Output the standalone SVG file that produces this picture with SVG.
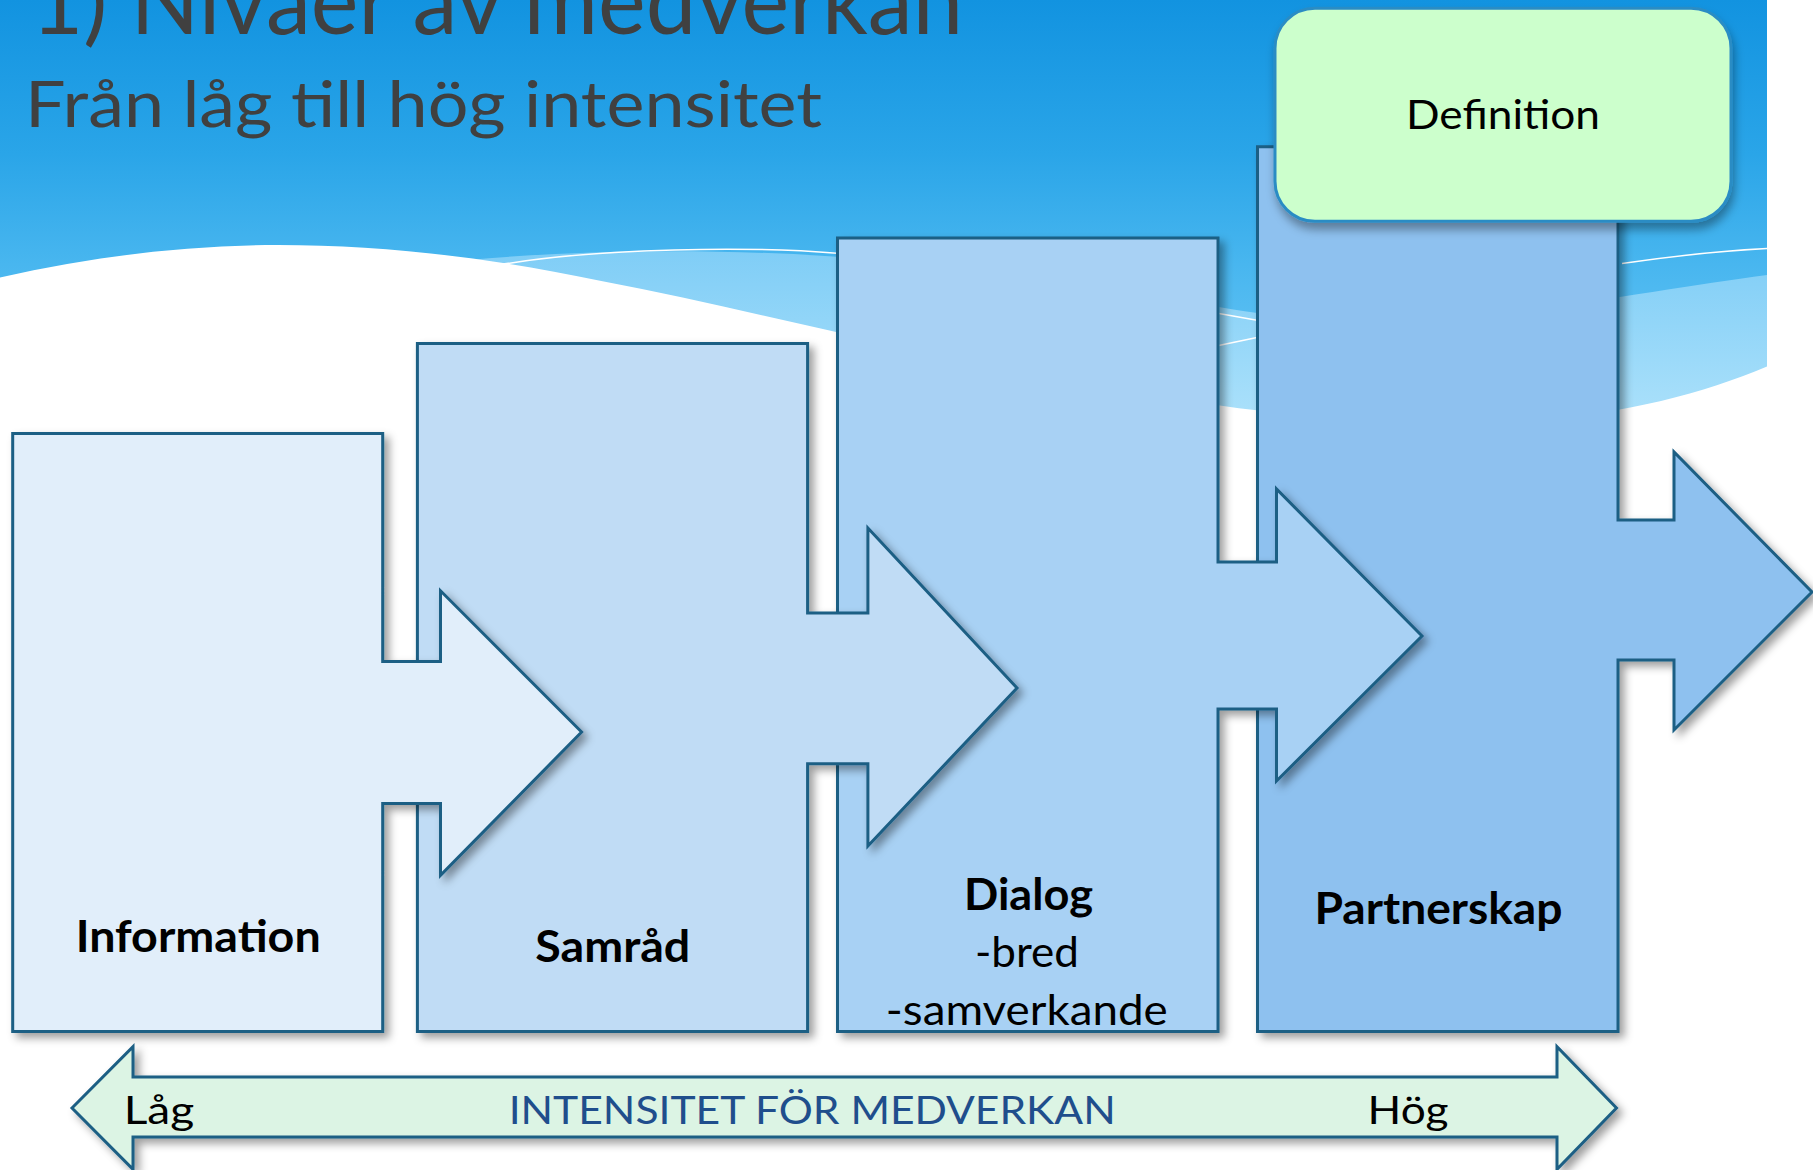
<svg xmlns="http://www.w3.org/2000/svg" width="1813" height="1170" viewBox="0 0 1813 1170">
  <defs>
    <linearGradient id="sky" x1="0" y1="0" x2="0" y2="440" gradientUnits="userSpaceOnUse">
      <stop offset="0" stop-color="#1293e0"/>
      <stop offset="0.35" stop-color="#2aa5e8"/>
      <stop offset="0.6" stop-color="#48b6ef"/>
      <stop offset="0.8" stop-color="#5ec1f3"/>
      <stop offset="1" stop-color="#7dcef7"/>
    </linearGradient>
    <linearGradient id="band" x1="0" y1="250" x2="0" y2="430" gradientUnits="userSpaceOnUse">
      <stop offset="0" stop-color="#7fcdf6"/>
      <stop offset="1" stop-color="#aee2fb"/>
    </linearGradient>
    <filter id="sh" x="-10%" y="-10%" width="130%" height="130%">
      <feDropShadow dx="5" dy="5" stdDeviation="4" flood-color="#000" flood-opacity="0.38"/>
    </filter>
    <filter id="shd" x="-10%" y="-10%" width="130%" height="140%">
      <feDropShadow dx="2" dy="7" stdDeviation="5" flood-color="#000" flood-opacity="0.35"/>
    </filter>
  </defs>
  <style>
    .box { stroke: #1d5e84; stroke-width: 3; stroke-linejoin: miter; filter: url(#sh); }
    .lbl { font-family: Lato, "Liberation Sans", sans-serif; fill: #000; text-anchor: middle; }
    .b { font-weight: 700; }
    .ttl { font-family: Lato, "Liberation Sans", sans-serif; fill: #404040; }
    .scale { font-family: Lato, "Liberation Sans", sans-serif; font-size: 38px; }
    .wl { fill: none; stroke: #ffffff; stroke-width: 1.5; }
  </style>

  <rect width="1813" height="1170" fill="#ffffff"/>

  <g id="background">
    <rect x="0" y="0" width="1767" height="440" fill="url(#sky)"/>
    <path d="M428,264 C600,245 810,245 1040,278 C1214,303 1330,335 1445,321 C1561,308 1677,287 1767,275 L1767,440 L428,440 Z" fill="url(#band)"/>
    <path d="M0,277.5 C92.5,256.7 185,245 277.5,245 C381.6,245 485.6,256.7 601.3,281 C716.9,303 832.5,333 948.1,356 C1098.4,387.3 1271.9,422 1445.3,423.2 C1595.6,423.2 1688.1,399 1767,366.5 L1767,1170 L0,1170 Z" fill="#ffffff"/>
    <path class="wl" d="M499.5,264.8 C601.3,247.4 751.6,246.3 837,253.2"/>
    <path class="wl" d="M1217.5,313.3 L1256.9,320.3"/>
    <path class="wl" d="M1217.5,345.7 L1256.9,337.6"/>
    <path class="wl" d="M1622,263.6 C1680,255 1720,251 1767,248.6"/>
  </g>

  <g id="title">
    <text class="ttl" x="31" y="34" font-size="94" textLength="932" lengthAdjust="spacingAndGlyphs">1) Nivåer av medverkan</text>
    <text class="ttl" x="25" y="126.7" font-size="64" textLength="797" lengthAdjust="spacingAndGlyphs">Från låg till hög intensitet</text>
  </g>

  <g id="partnerskap">
    <path class="box" fill="#8ec1ef" d="M1257.5,146.7 H1618 V520 H1674 V452 L1812,592 L1674,730 V660 H1618 V1031.5 H1257.5 Z"/>
    <text class="lbl b" x="1438.5" y="923.6" font-size="43" textLength="248" lengthAdjust="spacingAndGlyphs">Partnerskap</text>
  </g>

  <g id="dialog">
    <path class="box" fill="#a8d1f4" d="M837.5,238 H1218 V562 H1276.5 V489 L1422,636 L1276.5,781 V709 H1218 V1031.5 H837.5 Z"/>
    <text class="lbl b" x="1028.5" y="910" font-size="43" textLength="129" lengthAdjust="spacingAndGlyphs">Dialog</text>
    <text class="lbl" x="1027" y="967" font-size="43" textLength="104" lengthAdjust="spacingAndGlyphs">-bred</text>
    <text class="lbl" x="1026.8" y="1025" font-size="43" textLength="282" lengthAdjust="spacingAndGlyphs">-samverkande</text>
  </g>

  <g id="samrad">
    <path class="box" fill="#c0dcf5" d="M417.4,343.4 H807.6 V613 H867.9 V528 L1017,688 L867.9,846 V763.7 H807.6 V1031.5 H417.4 Z"/>
    <text class="lbl b" x="612.8" y="962" font-size="43" textLength="155" lengthAdjust="spacingAndGlyphs">Samråd</text>
  </g>

  <g id="information">
    <path class="box" fill="#e1eefa" d="M12.7,433.6 H382.7 V661.4 H440.5 V590.8 L581.6,732 L440.5,875.3 V803.6 H382.7 V1031.5 H12.7 Z"/>
    <text class="lbl b" x="198.2" y="951.5" font-size="43" textLength="245" lengthAdjust="spacingAndGlyphs">Information</text>
  </g>

  <g id="definition">
    <rect x="1275" y="8.3" width="456" height="213" rx="40" ry="40" fill="#ccffcc" stroke="#2b8cc4" stroke-width="3" filter="url(#shd)"/>
    <text class="lbl" x="1503" y="129.3" font-size="40" textLength="194" lengthAdjust="spacingAndGlyphs">Definition</text>
  </g>

  <g id="connectors">
    <g id="intensity-scale">
      <path class="box" fill="#dcf4e4" d="M72,1108 L133,1046.7 V1077 H1557 V1046.7 L1616.5,1108 L1557,1169.3 V1137 H133 V1169.3 Z"/>
      <text class="scale" x="123.7" y="1124" fill="#000" textLength="70.5" lengthAdjust="spacingAndGlyphs">Låg</text>
      <text class="scale" x="508.7" y="1124" fill="#1f4e8c" textLength="607" lengthAdjust="spacingAndGlyphs">INTENSITET FÖR MEDVERKAN</text>
      <text class="scale" x="1367.6" y="1124" fill="#000" textLength="81" lengthAdjust="spacingAndGlyphs">Hög</text>
    </g>
  </g>
</svg>
